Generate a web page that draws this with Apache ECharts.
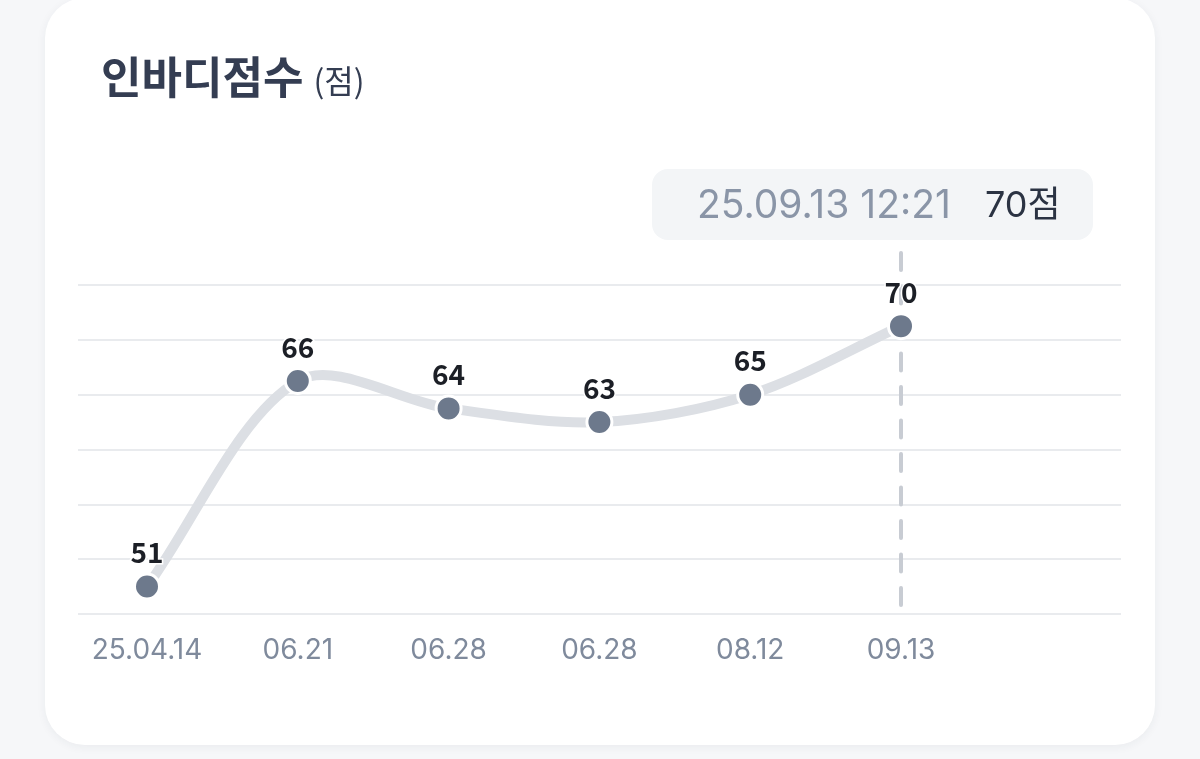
<!DOCTYPE html>
<html>
<head>
<meta charset="utf-8">
<script src="https://cdn.jsdelivr.net/npm/echarts@6/dist/echarts.min.js"></script>
<style>
  html, body { margin: 0; padding: 0; background: #f6f7f9; width: 1200px; height: 759px; overflow: hidden; }
  #card { position: absolute; left: 45px; top: -2px; width: 1110px; height: 747px; background: #ffffff; border-radius: 40px; box-shadow: 0 2px 10px rgba(40,50,70,0.06); }
  #chart { position: absolute; left: 0; top: 0; width: 1200px; height: 759px; }
</style>
</head>
<body>
<div id="card"></div>
<div id="chart"></div>
<script>
const titleText = '인바디점수';
const unitText = '(점)';
const categories = ['25.04.14', '06.21', '06.28', '06.28', '08.12', '09.13'];
const scores = [51, 66, 64, 63, 65, 70];
const yMin = 49, yMax = 73, yStep = 4;
const selectedIndex = 5;
const tipDate = '25.09.13 12:21';
const tipValue = '70점';

// layout
const gridTop = 285, gridBottom = 145;           // split-line grid
const chartH = 759;
const pxPerUnit = (chartH - gridBottom - gridTop) / (yMax - yMin);
const dataTop = 252, dataBottomPx = 605;          // data grid (taller, for the guide line)
const yMaxData = yMax + (gridTop - dataTop) / pxPerUnit;
const yMinData = yMin - (dataBottomPx - (chartH - gridBottom)) / pxPerUnit;
const tension = 0.32;

const chart = echarts.init(document.getElementById('chart'), null, { renderer: 'canvas' });
const numFont = 'Inter, "Noto Sans CJK KR", sans-serif';
const korFont = '"Noto Sans CJK KR", "Noto Sans", sans-serif';

function splinePath(pts) {
  const n = pts.length;
  const cps = pts.map((p, i) => {
    const prev = i === 0 ? p : pts[i - 1];
    const next = i === n - 1 ? p : pts[i + 1];
    const d01 = Math.hypot(p[0] - prev[0], p[1] - prev[1]);
    const d12 = Math.hypot(next[0] - p[0], next[1] - p[1]);
    let s01 = d01 / (d01 + d12), s12 = d12 / (d01 + d12);
    if (isNaN(s01)) s01 = 0; if (isNaN(s12)) s12 = 0;
    const fa = tension * s01, fb = tension * s12;
    return {
      prev: [p[0] - fa * (next[0] - prev[0]), p[1] - fa * (next[1] - prev[1])],
      next: [p[0] + fb * (next[0] - prev[0]), p[1] + fb * (next[1] - prev[1])]
    };
  });
  let d = 'M' + pts[0][0] + ' ' + pts[0][1];
  for (let i = 1; i < n; i++) {
    const c1 = cps[i - 1].next, c2 = cps[i].prev;
    d += ' C' + c1[0] + ' ' + c1[1] + ' ' + c2[0] + ' ' + c2[1] + ' ' + pts[i][0] + ' ' + pts[i][1];
  }
  return d;
}

chart.setOption({
  backgroundColor: 'transparent',
  animation: false,
  title: {
    text: titleText + '{u|' + unitText + '}',
    left: 96, top: 50,
    textStyle: {
      fontFamily: korFont, fontSize: 44, fontWeight: 'bold', color: '#343d52',
      rich: { u: { fontFamily: korFont, fontSize: 32, fontWeight: 'normal', color: '#343d52', padding: [8, 0, 0, 10] } }
    }
  },
  grid: [
    { left: 147, right: 299, top: dataTop, bottom: chartH - dataBottomPx },
    { left: 78, right: 79, top: gridTop, bottom: gridBottom }
  ],
  xAxis: [
    {
      type: 'category', gridIndex: 0, data: categories, boundaryGap: false,
      axisLine: { show: false }, axisTick: { show: false }, splitLine: { show: false },
      axisLabel: { fontFamily: numFont, fontSize: 28, color: '#7f8a9c', margin: 32, interval: 0 }
    },
    { type: 'value', gridIndex: 1, show: false, min: 0, max: 1 }
  ],
  yAxis: [
    { type: 'value', gridIndex: 0, min: yMinData, max: yMaxData, show: false, splitLine: { show: false } },
    {
      type: 'value', gridIndex: 1, min: 0, max: yMax - yMin, interval: yStep,
      axisLine: { show: false }, axisTick: { show: false }, axisLabel: { show: false },
      splitLine: { show: true, lineStyle: { color: '#e9ebee', width: 2 } }
    }
  ],
  graphic: [
    {
      type: 'rect', left: 652, top: 169, z: 10,
      shape: { width: 441, height: 71, r: 16 },
      style: { fill: '#f3f5f7' }
    },
    {
      type: 'text', x: 697, y: 206, z: 11,
      style: { text: tipDate, font: '400 39px ' + numFont, fill: '#8a95a7', verticalAlign: 'middle' }
    },
    {
      type: 'text', x: 985, y: 206, z: 11,
      style: { text: tipValue, font: '400 36px ' + numFont, fill: '#2b3343', verticalAlign: 'middle' }
    }
  ],
  series: [
    {
      type: 'custom', xAxisIndex: 0, yAxisIndex: 0, data: [0], clip: false, z: 2,
      renderItem: function (params, api) {
        const pts = scores.map((v, i) => api.coord([i, v]));
        return {
          type: 'path',
          shape: { pathData: splinePath(pts) },
          style: { fill: 'none', stroke: '#dcdfe4', lineWidth: 10, lineCap: 'round', lineJoin: 'round' }
        };
      }
    },
    {
      type: 'line', xAxisIndex: 0, yAxisIndex: 0, data: scores,
      clip: false,
      lineStyle: { width: 0, opacity: 0 },
      symbol: 'circle', symbolSize: 25,
      itemStyle: { color: '#6d798c', borderColor: '#ffffff', borderWidth: 3 },
      label: {
        show: true, position: 'top', distance: 6,
        fontFamily: korFont, fontSize: 28, fontWeight: 'bold', color: '#1c1f26',
        textBorderColor: '#ffffff', textBorderWidth: 3
      },
      z: 3,
      markLine: {
        silent: true, symbol: ['none', 'none'], label: { show: false },
        lineStyle: { color: '#c8ccd3', width: 4, type: [17, 16.5], cap: 'round' },
        z: 1,
        data: [{ xAxis: selectedIndex }]
      }
    }
  ]
});
</script>
</body>
</html>
